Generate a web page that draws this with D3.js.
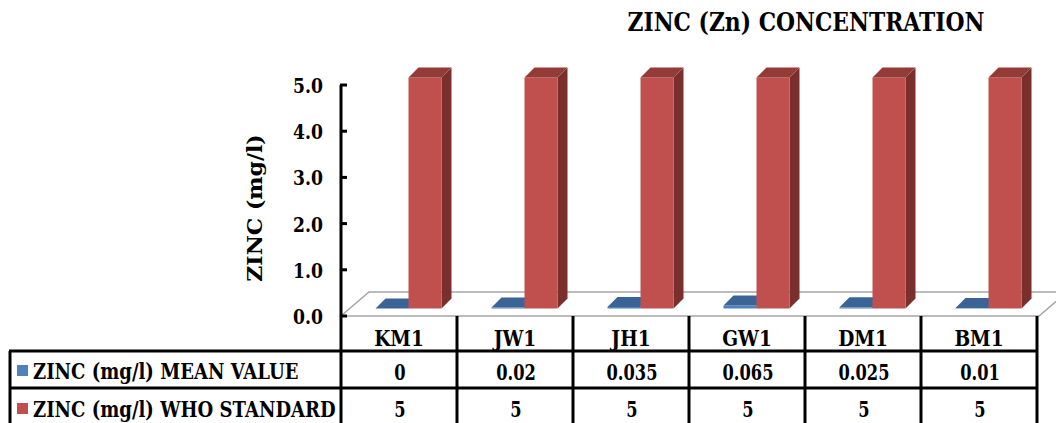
<!DOCTYPE html>
<html>
<head>
<meta charset="utf-8">
<script src="https://cdn.jsdelivr.net/npm/d3@7"></script>
<style>
  html, body { margin: 0; padding: 0; background: #fff; }
  svg { display: block; }
</style>
</head>
<body>
<svg id="chart" width="1056" height="423"></svg>
<script>
// Sample sites, zinc readings and the WHO guideline
const categories = ["KM1", "JW1", "JH1", "GW1", "DM1", "BM1"];
const meanValues = [0, 0.02, 0.035, 0.065, 0.025, 0.01];
const whoValues = [5, 5, 5, 5, 5, 5];
const seriesNames = ["ZINC (mg/l) MEAN VALUE", "ZINC (mg/l) WHO STANDARD"];
const seriesColors = ["#4F81BD", "#C0504D"];
const seriesTops = ["#3A6496", "#943A37"];
const seriesSides = ["#2E4F78", "#7A2F2D"];
const yTicks = [0, 1, 2, 3, 4, 5];
const chartTitle = "ZINC (Zn) CONCENTRATION";
const yTitle = "ZINC (mg/l)";

const series = [meanValues, whoValues];
const svg = d3.select("#chart");
const FONT = "'DejaVu Serif', serif";

// layout
const plotLeft = 341, plotRight = 1037;
const y0 = 316, yTop = 85;
const floorD = [28, -24];   // floor depth vector
const barOff = [9.5, -7.5]; // bar front plane offset
const barD = [10, -10];     // bar depth
const barW = 33;

const x = d3.scaleBand().domain(categories).range([plotLeft, plotRight]).padding(0);
const y = d3.scaleLinear().domain([0, 5]).range([y0, yTop]);
const xs = d3.scaleBand().domain(d3.range(series.length)).range([-barW, barW]);

function styleText(t, anchor, size) {
  return t.attr("text-anchor", anchor).style("font-family", FONT).attr("font-weight", "bold")
    .attr("font-size", size).attr("fill", "#000");
}
// text narrowed horizontally by factor k
function sq(g, px, py, str, anchor, size, k) {
  return styleText(g.append("g").attr("transform", `translate(${px},${py}) scale(${k},1)`)
    .append("text"), anchor, size).text(str);
}

// title
sq(svg, 806, 31, chartTitle, "middle", 26, 0.84);

// y axis title
styleText(svg.append("g").attr("transform", `translate(262,208) scale(0.95,1) rotate(-90)`)
  .append("text"), "middle", 22).text(yTitle);

// floor
const fl = [
  [plotLeft, y0], [plotRight + 2, y0],
  [plotRight + 2 + floorD[0], y0 + floorD[1]], [plotLeft + floorD[0], y0 + floorD[1]]
];
svg.append("polygon").attr("points", fl.map(p => p.join(",")).join(" "))
  .attr("fill", "#fff").attr("stroke", "#A6A6A6").attr("stroke-width", 1.5);

// bars drawn back-to-front
const bars = svg.append("g");
categories.forEach((c, ci) => {
  const cx = x(c) + x.bandwidth() / 2 + barOff[0];
  series.forEach((vals, si) => {
    const v = vals[ci];
    const xl = cx + xs(si), xr = xl + xs.bandwidth();
    const yt = y(v) + barOff[1], yb = y(0) + barOff[1];
    const g = bars.append("g");
    // side face
    g.append("polygon").attr("points", [
      [xr, yb], [xr + barD[0], yb + barD[1]], [xr + barD[0], yt + barD[1]], [xr, yt]
    ].map(p => p.join(",")).join(" ")).attr("fill", seriesSides[si]);
    // front face
    g.append("rect").attr("x", xl).attr("y", yt).attr("width", xr - xl).attr("height", yb - yt)
      .attr("fill", seriesColors[si]);
    // top face
    g.append("polygon").attr("points", [
      [xl, yt], [xr, yt], [xr + barD[0], yt + barD[1]], [xl + barD[0], yt + barD[1]]
    ].map(p => p.join(",")).join(" ")).attr("fill", seriesTops[si]);
  });
});

// y axis
const axisG = svg.append("g").attr("transform", `translate(${plotLeft},0)`);
axisG.append("line").attr("x1", 0).attr("x2", 0).attr("y1", yTop).attr("y2", 423)
  .attr("stroke", "#000").attr("stroke-width", 3);
yTicks.forEach(t => {
  axisG.append("line").attr("x1", -1).attr("x2", 6).attr("y1", y(t)).attr("y2", y(t))
    .attr("stroke", "#000").attr("stroke-width", 3);
  sq(axisG, -18, y(t) + 8, d3.format(".1f")(t), "end", 20, 0.86);
});

// data table
const tbl = svg.append("g");
const lineAttr = s => s.attr("stroke", "#000").attr("stroke-width", 3);
categories.forEach(c => {
  lineAttr(tbl.append("line").attr("x1", x(c) + x.bandwidth()).attr("x2", x(c) + x.bandwidth())
    .attr("y1", y0).attr("y2", 423));
});
lineAttr(tbl.append("line").attr("x1", 10).attr("x2", 10).attr("y1", 351).attr("y2", 423));
lineAttr(tbl.append("line").attr("x1", 9).attr("x2", plotRight + 1).attr("y1", 351).attr("y2", 351));
lineAttr(tbl.append("line").attr("x1", 9).attr("x2", plotRight + 1).attr("y1", 388).attr("y2", 388));

categories.forEach((c, ci) => {
  const cx = x(c) + x.bandwidth() / 2;
  sq(tbl, cx, 346, c, "middle", 22, 0.845);
  series.forEach((vals, si) => {
    sq(tbl, cx + 1, [380, 417][si], String(vals[ci]), "middle", 22, 0.74);
  });
});

seriesNames.forEach((n, si) => {
  const by = [379, 417][si];
  tbl.append("rect").attr("x", 17).attr("y", by - 14).attr("width", 11).attr("height", 11)
    .attr("fill", seriesColors[si]);
  sq(tbl, 33, by, n, "start", 22, 0.82);
});
</script>
</body>
</html>
